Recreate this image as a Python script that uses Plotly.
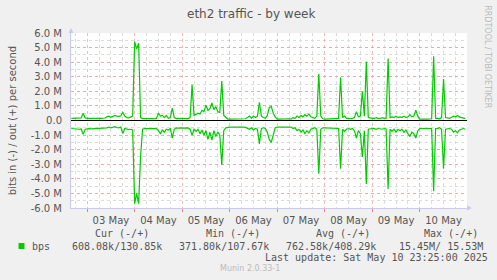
import plotly.graph_objects as go
import pandas as pd

# ---- data (Mbit/s, hourly from 2025-05-02 16:00) ----
start_time = "2025-05-02 16:00"
out_mbps = [
    0.15, 0.15, 0.14, 0.16, 0.15, 0.18, 0.5, 0.18,
    0.15, 0.14, 0.15, 0.15, 0.16, 0.15, 0.14, 0.15, 0.15, 0.17, 0.25, 0.3, 0.22, 0.3, 0.35, 0.3, 0.28, 0.33, 0.55, 0.3, 0.2, 0.18, 0.22, 0.3,
    5.4, 4.9, 5.3, 0.2, 0.13, 0.14, 0.12, 0.13, 0.14, 0.13, 0.12, 0.14, 0.5, 0.3, 0.35, 0.2, 0.35, 0.15, 0.2, 0.85, 0.2, 0.13, 0.14, 0.13,
    0.13, 0.12, 0.14, 0.13, 0.2, 2.45, 0.35, 0.4, 0.5, 0.45, 0.7, 0.6, 1.05, 0.7, 0.8, 1.2, 0.75, 0.95, 0.6, 0.55, 2.7, 0.35, 0.2, 0.1,
    0.1, 0.1, 0.12, 0.1, 0.1, 0.11, 0.1, 0.1, 0.12, 0.2, 0.3, 0.15, 0.3, 0.2, 0.3, 1.25, 0.3, 0.2, 0.15, 0.35, 0.9, 0.95, 0.5, 0.25,
    0.1, 0.1, 0.11, 0.1, 0.1, 0.1, 0.12, 0.1, 0.2, 0.15, 0.3, 0.2, 0.35, 0.25, 0.4, 0.3, 0.45, 0.25, 0.2, 0.15, 0.3, 3.2, 0.3, 0.12,
    0.1, 0.1, 0.12, 0.1, 0.1, 0.1, 0.11, 0.15, 2.95, 0.2, 0.3, 0.15, 0.15, 0.12, 0.15, 0.2, 0.6, 0.25, 0.3, 2.0, 0.3, 4.05, 0.2, 0.15,
    0.15, 0.14, 0.2, 0.15, 0.14, 0.2, 0.15, 0.16, 4.25, 0.2, 0.25, 0.2, 0.3, 0.2, 0.25, 0.2, 0.3, 0.2, 0.25, 0.4, 0.25, 0.3, 0.7, 0.3,
    0.1, 0.1, 0.12, 0.1, 0.1, 0.11, 0.12, 4.4, 0.15, 0.15, 0.12, 0.2, 2.85, 0.2, 0.15, 0.15, 0.2, 0.3, 0.25, 0.35, 0.25, 0.2, 0.15, 0.13,
]
in_mbps = [
    0.55, 0.57, 0.55, 0.56, 0.6, 0.58, 0.95, 0.6,
    0.57, 0.56, 0.57, 0.56, 0.55, 0.57, 0.56, 0.57, 0.56, 0.55, 0.5, 0.45, 0.5, 0.46, 0.42, 0.48, 0.5, 0.45, 0.9, 0.55, 0.6, 0.62, 0.6, 0.65,
    5.7, 5.0, 5.7, 2.4, 0.6, 0.55, 0.56, 0.55, 0.57, 0.55, 0.56, 0.55, 0.7, 0.9, 0.65, 0.8, 0.6, 0.65, 0.55, 1.2, 0.6, 0.5, 0.52, 0.5,
    0.5, 0.52, 0.5, 0.51, 0.6, 1.0, 0.6, 0.75, 0.6, 0.9, 0.65, 1.0, 0.7, 1.3, 0.8, 1.35, 0.7, 1.1, 0.8, 1.0, 3.05, 0.7, 0.5, 0.45,
    0.45, 0.46, 0.45, 0.44, 0.45, 0.46, 0.45, 0.45, 0.47, 0.55, 0.6, 0.5, 0.65, 0.55, 0.6, 1.6, 0.55, 0.5, 0.55, 0.8, 1.3, 1.5, 0.9, 0.5,
    0.45, 0.46, 0.45, 0.45, 0.44, 0.45, 0.46, 0.45, 0.55, 0.5, 0.7, 0.6, 0.8, 0.65, 0.9, 0.7, 0.85, 0.6, 0.55, 0.5, 0.6, 3.65, 0.6, 0.5,
    0.5, 0.5, 0.51, 0.5, 0.5, 0.5, 0.52, 0.55, 3.3, 0.6, 0.75, 0.6, 0.55, 0.6, 0.55, 0.7, 1.2, 0.7, 0.9, 2.5, 0.7, 4.35, 0.6, 0.55,
    0.55, 0.56, 0.6, 0.55, 0.57, 0.6, 0.55, 0.58, 4.7, 0.6, 0.75, 0.6, 0.8, 0.6, 0.7, 0.6, 0.8, 0.65, 0.9, 1.1, 0.8, 0.9, 1.2, 0.7,
    0.55, 0.55, 0.56, 0.55, 0.55, 0.56, 0.55, 4.85, 0.55, 0.55, 0.5, 0.6, 3.3, 0.6, 0.55, 0.55, 0.6, 0.8, 0.7, 0.85, 0.65, 0.6, 0.55, 0.6,
]
y_tick_vals = [-6, -5, -4, -3, -2, -1, 0, 1, 2, 3, 4, 5, 6]
y_tick_text = ["-6.0 M", "-5.0 M", "-4.0 M", "-3.0 M", "-2.0 M", "-1.0 M", "0.0",
               "1.0 M", "2.0 M", "3.0 M", "4.0 M", "5.0 M", "6.0 M"]
legend_headers = ["Cur (-/+)", "Min (-/+)", "Avg (-/+)", "Max (-/+)"]
legend_values = ["608.08k/130.85k", "371.80k/107.67k", "762.58k/408.29k", "15.45M/ 15.53M"]
series_name = "bps"
last_update = "Last update: Sat May 10 23:25:00 2025"
title_text = "eth2 traffic - by week"
y_title = "bits in (-) / out (+) per second"

times = pd.date_range(start_time, periods=len(out_mbps), freq="h")
neg_in = [-v for v in in_mbps]

W, H = 497, 280
L, R, T, B = 67, 467, 33, 208
GREEN = "#00CC00"
TXT = "#555555"
MAJOR = "rgba(240,140,140,0.6)"
MINOR = "#DCDCDC"

def px(x):
    return (x - L) / (R - L)

def py(y):
    return (B - y) / (B - T)

fig = go.Figure()
fig.add_trace(go.Scatter(x=times, y=out_mbps, mode="lines",
                         line=dict(color=GREEN, width=1.2), showlegend=False))
fig.add_trace(go.Scatter(x=times, y=neg_in, mode="lines",
                         line=dict(color=GREEN, width=1.2), showlegend=False))

fig.update_layout(
    width=W, height=H,
    margin=dict(l=L, r=W - R, t=T, b=H - B),
    paper_bgcolor="#F0F0F0", plot_bgcolor="#FFFFFF",
    font=dict(family="DejaVu Sans", size=10, color=TXT),
    showlegend=False,
)
fig.update_xaxes(
    type="date",
    range=["2025-05-02 15:51", "2025-05-10 23:51"],
    tick0="2025-05-03 00:00", dtick=86400000,
    tickformat="%d %b", ticklabelmode="period",
    showgrid=True, gridcolor=MAJOR, griddash="dot", gridwidth=1,
    ticks="outside", ticklen=3, tickcolor="rgba(230,120,120,0.9)",
    minor=dict(dtick=6 * 3600000, showgrid=True, gridcolor=MINOR, griddash="dot", ticks=""),
    showline=True, linecolor="#C8C8F0", linewidth=1,
    tickfont=dict(size=10, color=TXT),
    fixedrange=True,
)
fig.update_yaxes(
    range=[-6, 6],
    tickvals=y_tick_vals, ticktext=y_tick_text,
    showgrid=True, gridcolor=MAJOR, griddash="dot", gridwidth=1,
    minor=dict(dtick=0.5, showgrid=True, gridcolor=MINOR, griddash="dot"),
    zeroline=True, zerolinecolor="#000000", zerolinewidth=1,
    showline=True, linecolor="#C8C8F0", linewidth=1,
    ticks="", ticklabelstandoff=6,
    tickfont=dict(size=10, color=TXT),
    title=dict(text=y_title, font=dict(size=10, color=TXT), standoff=12),
)

ann = []
ann.append(dict(text=title_text, x=px(249), y=py(14), xref="paper", yref="paper",
                showarrow=False, font=dict(size=12, color=TXT), xanchor="center", yanchor="middle"))
ann.append(dict(text="RRDTOOL / TOBI OETIKER", x=px(488), y=py(57), xref="paper", yref="paper",
                showarrow=False, textangle=90, font=dict(size=8, color="#BBBBBB"),
                xanchor="center", yanchor="middle"))
ann.append(dict(text="Munin 2.0.33-1", x=px(248), y=py(268), xref="paper", yref="paper",
                showarrow=False, font=dict(size=8, color="#BBBBBB"), xanchor="center", yanchor="middle"))
mono = dict(family="DejaVu Sans Mono", size=10, color=TXT)
header_x = [90, 202, 313, 423]
value_x = [67, 175, 283, 397]
for hx, htxt in zip(header_x, legend_headers):
    ann.append(dict(text=htxt, x=px(hx), y=py(233), xref="paper", yref="paper", showarrow=False,
                    font=mono, xanchor="left", yanchor="middle", borderpad=0))
for vx, vtxt in zip(value_x, legend_values):
    ann.append(dict(text=vtxt, x=px(vx), y=py(246), xref="paper", yref="paper", showarrow=False,
                    font=mono, xanchor="left", yanchor="middle", borderpad=0))
ann.append(dict(text=series_name, x=px(27), y=py(246), xref="paper", yref="paper", showarrow=False,
                font=mono, xanchor="left", yanchor="middle", borderpad=0))
ann.append(dict(text=last_update, x=px(262), y=py(257), xref="paper", yref="paper", showarrow=False,
                font=mono, xanchor="left", yanchor="middle", borderpad=0))
fig.update_layout(annotations=ann)

fig.add_shape(type="rect", xref="paper", yref="paper",
              x0=px(14), x1=px(20), y0=py(249), y1=py(243),
              fillcolor=GREEN, line=dict(width=0))
# axis arrows
fig.add_shape(type="path", xref="paper", yref="paper",
              path=f"M {px(467)} {py(205.5)} L {px(472)} {py(208)} L {px(467)} {py(210.5)} Z",
              fillcolor="#C8C8F0", line=dict(width=0))
fig.add_shape(type="path", xref="paper", yref="paper",
              path=f"M {px(64.5)} {py(33)} L {px(67)} {py(28)} L {px(69.5)} {py(33)} Z",
              fillcolor="#C8C8F0", line=dict(width=0))

fig.write_html("out.html")
